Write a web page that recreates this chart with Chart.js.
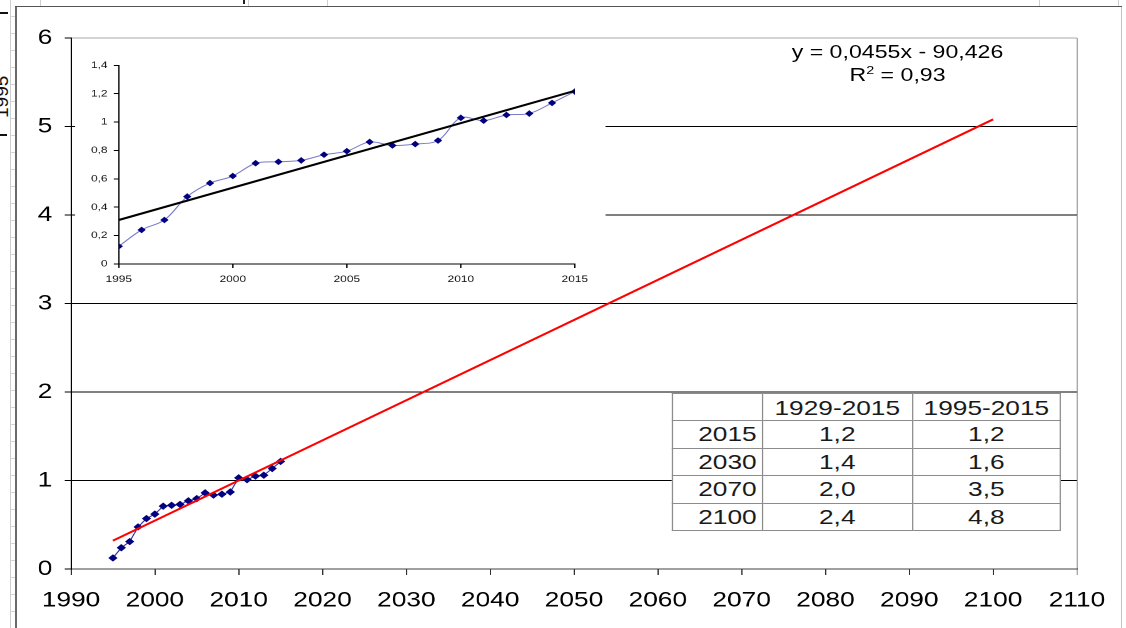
<!DOCTYPE html>
<html>
<head>
<meta charset="utf-8">
<script src="https://cdn.jsdelivr.net/npm/chart.js@4.4.1/dist/chart.umd.min.js"></script>
<style>
  html, body { margin:0; padding:0; background:#fff; }
  body { width:1126px; height:628px; position:relative; overflow:hidden; font-family:"Liberation Sans", Arial, sans-serif; }
  #wrap { position:absolute; left:0; top:0; width:900px; height:628px; transform:scaleX(1.2511); transform-origin:0 0; }
  #mainBox { position:absolute; left:0; top:0; width:900px; height:628px; }
  #insetBox { position:absolute; left:60px; top:39px; width:423.6px; height:253px; background:#fff; }
  #eq { position:absolute; left:567.4px; top:41px; width:300px; text-align:center; font-size:18.5px; line-height:22.5px; color:#000; }
  #eq sup { font-size:11.5px; vertical-align:0; position:relative; top:-7px; }
  #tbl { position:absolute; left:536.9px; top:392.7px; border-collapse:collapse; background:#fff; font-size:21px; color:#1a1a1a; }
  #tbl td { border:1px solid #8c8c8c; padding:2px 0 0 0; line-height:21px; vertical-align:top; height:27.5px; box-sizing:border-box; }
  #tbl td.h { text-align:right; padding-right:4px; }
  #tbl td.c { text-align:center; }
  #tbl tr.head td { padding-top:3px; }
  .deco { position:absolute; }
</style>
</head>
<body>
<!-- spreadsheet remnants around the chart object -->
<div class="deco" style="left:10px;top:0;width:5px;height:628px;background:repeating-linear-gradient(to bottom, transparent 0 16px, #d4d4d4 16px 17px);"></div>
<div class="deco" style="left:10px;top:0;width:1px;height:628px;background:#cfcfcf;"></div>
<div class="deco" style="left:15px;top:7px;width:2px;height:621px;background:#6a6a6a;"></div>
<div class="deco" style="left:15px;top:6px;width:1107px;height:1px;background:#555;"></div>
<div class="deco" style="left:1121px;top:7px;width:1px;height:621px;background:#c4c4c4;"></div>
<div class="deco" style="left:40px;top:0;width:1px;height:6px;background:#cfcfcf;"></div>
<div class="deco" style="left:243px;top:0;width:2px;height:4px;background:#222;"></div>
<div class="deco" style="left:248px;top:0;width:1px;height:6px;background:#cfcfcf;"></div>
<div class="deco" style="left:327px;top:0;width:1px;height:6px;background:#cfcfcf;"></div>
<div class="deco" style="left:1039px;top:0;width:1px;height:6px;background:#cfcfcf;"></div>
<div class="deco" style="left:1118px;top:0;width:1px;height:6px;background:#cfcfcf;"></div>
<div class="deco" style="left:0;top:12px;width:8px;height:2px;background:#111;"></div>
<div class="deco" style="left:0;top:134px;width:7px;height:2px;background:#111;"></div>
<div class="deco" style="left:0;top:0;width:10px;height:200px;overflow:hidden;">
  <span style="position:absolute;left:-8px;top:118px;transform:rotate(-90deg);transform-origin:0 0;font-size:19px;line-height:19px;white-space:nowrap;color:#111;">1995</span>
</div>

<div id="wrap">
  <div id="mainBox"><canvas id="main"></canvas></div>
  <div id="insetBox"><canvas id="inset"></canvas></div>
  <div id="eq">y = 0,0455x - 90,426<br>R<sup>2</sup> = 0,93</div>
  <table id="tbl">
    <colgroup><col style="width:71.9px"><col style="width:119.9px"><col style="width:118.5px"></colgroup>
    <tr class="head"><td class="h"></td><td class="c">1929-2015</td><td class="c">1995-2015</td></tr>
    <tr><td class="h">2015</td><td class="c">1,2</td><td class="c">1,2</td></tr>
    <tr><td class="h">2030</td><td class="c">1,4</td><td class="c">1,6</td></tr>
    <tr><td class="h">2070</td><td class="c">2,0</td><td class="c">3,5</td></tr>
    <tr><td class="h">2100</td><td class="c">2,4</td><td class="c">4,8</td></tr>
  </table>
</div>

<script>
// ---- data ----
const years = [1995,1996,1997,1998,1999,2000,2001,2002,2003,2004,2005,2006,2007,2008,2009,2010,2011,2012,2013,2014,2015];
const values = [0.125,0.24,0.31,0.475,0.57,0.62,0.71,0.72,0.73,0.77,0.795,0.86,0.835,0.845,0.87,1.03,1.01,1.05,1.06,1.135,1.215];
const trendYears = [1995, 2100];
const trendValues = [0.32, 5.08];
const insetTrendYears = [1995, 2015];
const insetTrendValues = [0.31, 1.22];
const mainXTicks = [1990,2000,2010,2020,2030,2040,2050,2060,2070,2080,2090,2100,2110];
const mainYTicks = [0,1,2,3,4,5,6];
const insetXTicks = [1995,2000,2005,2010,2015];
const insetYTicks = [0,0.2,0.4,0.6,0.8,1.0,1.2,1.4];

const FONT = "'Liberation Sans', Arial, sans-serif";
const pts = (xs, ys) => xs.map((x, i) => ({ x: x, y: ys[i] }));
const comma = v => String(Number(v.toFixed(1))).replace('.', ',');

new Chart(document.getElementById('main'), {
  type: 'line',
  data: {
    datasets: [
      { data: pts(trendYears, trendValues), borderColor: '#ff0000', borderWidth: 2, pointRadius: 0, fill: false, tension: 0 },
      { data: pts(years, values), borderColor: '#34349a', borderWidth: 1, pointStyle: 'rectRot', pointRadius: 3,
        pointBackgroundColor: '#000080', pointBorderColor: '#000080', pointBorderWidth: 1, fill: false, tension: 0 }
    ]
  },
  options: {
    responsive: true, maintainAspectRatio: false, animation: false, devicePixelRatio: 2,
    layout: { padding: { left: 0, top: 38, right: 39.2, bottom: 0 } },
    plugins: { legend: { display: false }, tooltip: { enabled: false } },
    scales: {
      x: {
        type: 'linear', min: mainXTicks[0], max: mainXTicks[mainXTicks.length - 1],
        afterBuildTicks: s => { s.ticks = mainXTicks.map(v => ({ value: v })); },
        ticks: { font: { family: FONT, size: 21 }, color: '#000', padding: 13, maxRotation: 0, autoSkip: false, callback: v => String(v) },
        grid: {
          drawOnChartArea: true, tickLength: 6, lineWidth: 1,
          color: c => (c.tick && c.tick.value === 2110) ? '#a8a8a8' : 'rgba(0,0,0,0)',
          tickColor: c => (c.tick && c.tick.value === 2110) ? '#a8a8a8' : '#303030'
        },
        border: { color: '#404040', width: 1 },
        afterFit: s => { s.height = 59; }
      },
      y: {
        type: 'linear', min: 0, max: 6,
        afterBuildTicks: s => { s.ticks = mainYTicks.map(v => ({ value: v })); },
        ticks: { font: { family: FONT, size: 21 }, color: '#000', padding: 10, callback: v => String(v) },
        grid: {
          tickLength: 5, lineWidth: 1,
          color: c => { const v = c.tick ? c.tick.value : null; return v === 6 ? '#a8a8a8' : (v === 0 ? 'rgba(0,0,0,0)' : '#000'); },
          tickColor: '#000'
        },
        border: { color: '#000', width: 1 },
        afterFit: s => { s.width = 56.75; }
      }
    }
  }
});

new Chart(document.getElementById('inset'), {
  type: 'line',
  data: {
    datasets: [
      { data: pts(insetTrendYears, insetTrendValues), borderColor: '#000', borderWidth: 2, pointRadius: 0, fill: false, tension: 0 },
      { data: pts(years, values), borderColor: '#7a7ac8', borderWidth: 1, pointStyle: 'rectRot', pointRadius: 2.6,
        pointBackgroundColor: '#000080', pointBorderColor: '#000080', pointBorderWidth: 1, fill: false,
        tension: 0.35, cubicInterpolationMode: 'default' }
    ]
  },
  options: {
    responsive: true, maintainAspectRatio: false, animation: false, devicePixelRatio: 2,
    layout: { padding: { left: 0, top: 26.3, right: 24.6, bottom: 0 } },
    plugins: { legend: { display: false }, tooltip: { enabled: false } },
    scales: {
      x: {
        type: 'linear', min: 1995, max: 2015,
        afterBuildTicks: s => { s.ticks = insetXTicks.map(v => ({ value: v })); },
        ticks: { font: { family: FONT, size: 9.5 }, color: '#111', padding: 5.5, maxRotation: 0, autoSkip: false, callback: v => String(v) },
        grid: { drawOnChartArea: false, tickLength: 4, tickColor: '#000' },
        border: { color: '#000', width: 1 },
        afterFit: s => { s.height = 28; }
      },
      y: {
        type: 'linear', min: 0, max: 1.4,
        afterBuildTicks: s => { s.ticks = insetYTicks.map(v => ({ value: v })); },
        ticks: { font: { family: FONT, size: 9.5 }, color: '#111', padding: 5, callback: v => comma(v) },
        grid: { drawOnChartArea: false, tickLength: 4, tickColor: '#000' },
        border: { color: '#000', width: 1 },
        afterFit: s => { s.width = 34.9; }
      }
    }
  }
});
</script>
</body>
</html>
